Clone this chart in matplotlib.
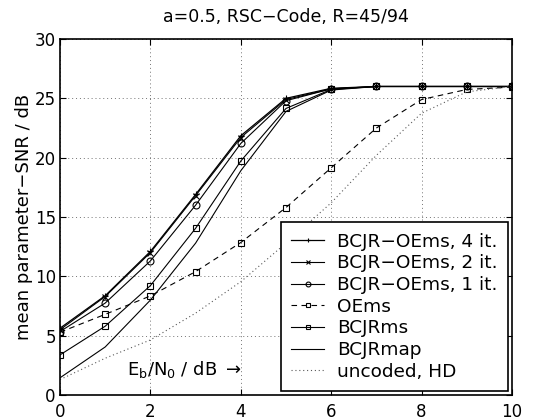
import numpy as np
import matplotlib
matplotlib.use("Agg")
import matplotlib.pyplot as plt

plt.rcParams["font.family"] = ["DejaVu Sans"]
plt.rcParams["mathtext.fontset"] = "dejavusans"

# ---------- data ----------
ebn0 = [0, 1, 2, 3, 4, 5, 6, 7, 8, 9, 10]

oems_4it = [5.63, 8.37, 12.1, 16.9, 21.85, 25.0, 25.85, 26.0, 26.0, 26.0, 26.0]
oems_2it = [5.5, 8.3, 12.0, 16.8, 21.7, 24.9, 25.8, 26.0, 26.0, 26.0, 26.0]
oems_1it = [5.35, 7.75, 11.3, 16.0, 21.2, 24.8, 25.8, 26.0, 26.0, 26.0, 26.0]
oems = [5.29, 6.8, 8.35, 10.4, 12.85, 15.8, 19.15, 22.5, 24.9, 25.75, 25.95]
bcjr_ms = [3.38, 5.8, 9.22, 14.05, 19.72, 24.15, 25.75, 26.0, 26.0, 26.0, 26.0]
bcjr_map = [1.45, 4.05, 8.0, 12.8, 18.9, 23.9, 25.7, 26.0, 26.0, 26.0, 26.0]
uncoded_hd = [1.3, 3.1, 4.64, 6.9, 9.55, 12.8, 16.2, 20.2, 23.75, 25.55, 26.0]

labels = ["BCJR\u2212OEms, 4 it.", "BCJR\u2212OEms, 2 it.", "BCJR\u2212OEms, 1 it.",
          "OEms", "BCJRms", "BCJRmap", "uncoded, HD"]


def main() -> None:
    fig = plt.figure(figsize=(5.33, 4.20), dpi=100)
    ax = fig.add_axes([0.1126, 0.0595, 0.848, 0.8476])

    mk = dict(markerfacecolor="none", markeredgecolor="k", markeredgewidth=0.8)
    ax.plot(ebn0, oems_4it, color="k", lw=0.9, marker="+", ms=5, label=labels[0], **mk)
    ax.plot(ebn0, oems_2it, color="k", lw=0.8, marker="x", ms=4, label=labels[1], **mk)
    ax.plot(ebn0, oems_1it, color="k", lw=0.8, marker="o", ms=5, label=labels[2], **mk)
    ax.plot(ebn0, oems, color="k", lw=0.8, ls=(0, (5, 4)), marker="s", ms=4, label=labels[3], **mk)
    ax.plot(ebn0, bcjr_ms, color="k", lw=0.8, marker="s", ms=4, label=labels[4], **mk)
    ax.plot(ebn0, bcjr_map, color="k", lw=0.8, label=labels[5])
    ax.plot(ebn0, uncoded_hd, color="0.35", lw=0.8, ls=(0, (1, 2.5)), label=labels[6])

    ax.set_xlim(0, 10)
    ax.set_ylim(0, 30)
    ax.set_xticks(range(0, 11, 2))
    ax.set_yticks(range(0, 31, 5))
    ax.grid(True, color="0.45", ls=(0, (1, 3)), lw=0.7)
    ax.tick_params(direction="in", top=True, right=True, labelsize=12, length=4)
    ax.tick_params(axis="x", pad=6)
    ax.tick_params(axis="y", pad=3)
    for s in ax.spines.values():
        s.set_linewidth(1.2)

    ax.set_title("a=0.5, RSC\u2212Code, R=45/94", fontsize=12.5, pad=12.5)
    ax.set_ylabel("mean parameter\u2212SNR / dB", fontsize=13, labelpad=1)
    ax.text(1.49, 1.7, r"$\mathregular{E_b/N_0}$ / dB $\rightarrow$", fontsize=13,
            ha="left", va="baseline")

    leg = ax.legend(loc="lower right", fontsize=13.3, handlelength=1.8, handletextpad=0.7,
                    labelspacing=0.2, borderpad=0.55, fancybox=False, framealpha=1,
                    edgecolor="k", borderaxespad=0.22)
    leg.get_frame().set_linewidth(1.2)
    for h in leg.legend_handles:
        h.set_markersize(3.5)

    fig.savefig("out.png", dpi=100)
    plt.close(fig)


if __name__ == "__main__":
    main()
